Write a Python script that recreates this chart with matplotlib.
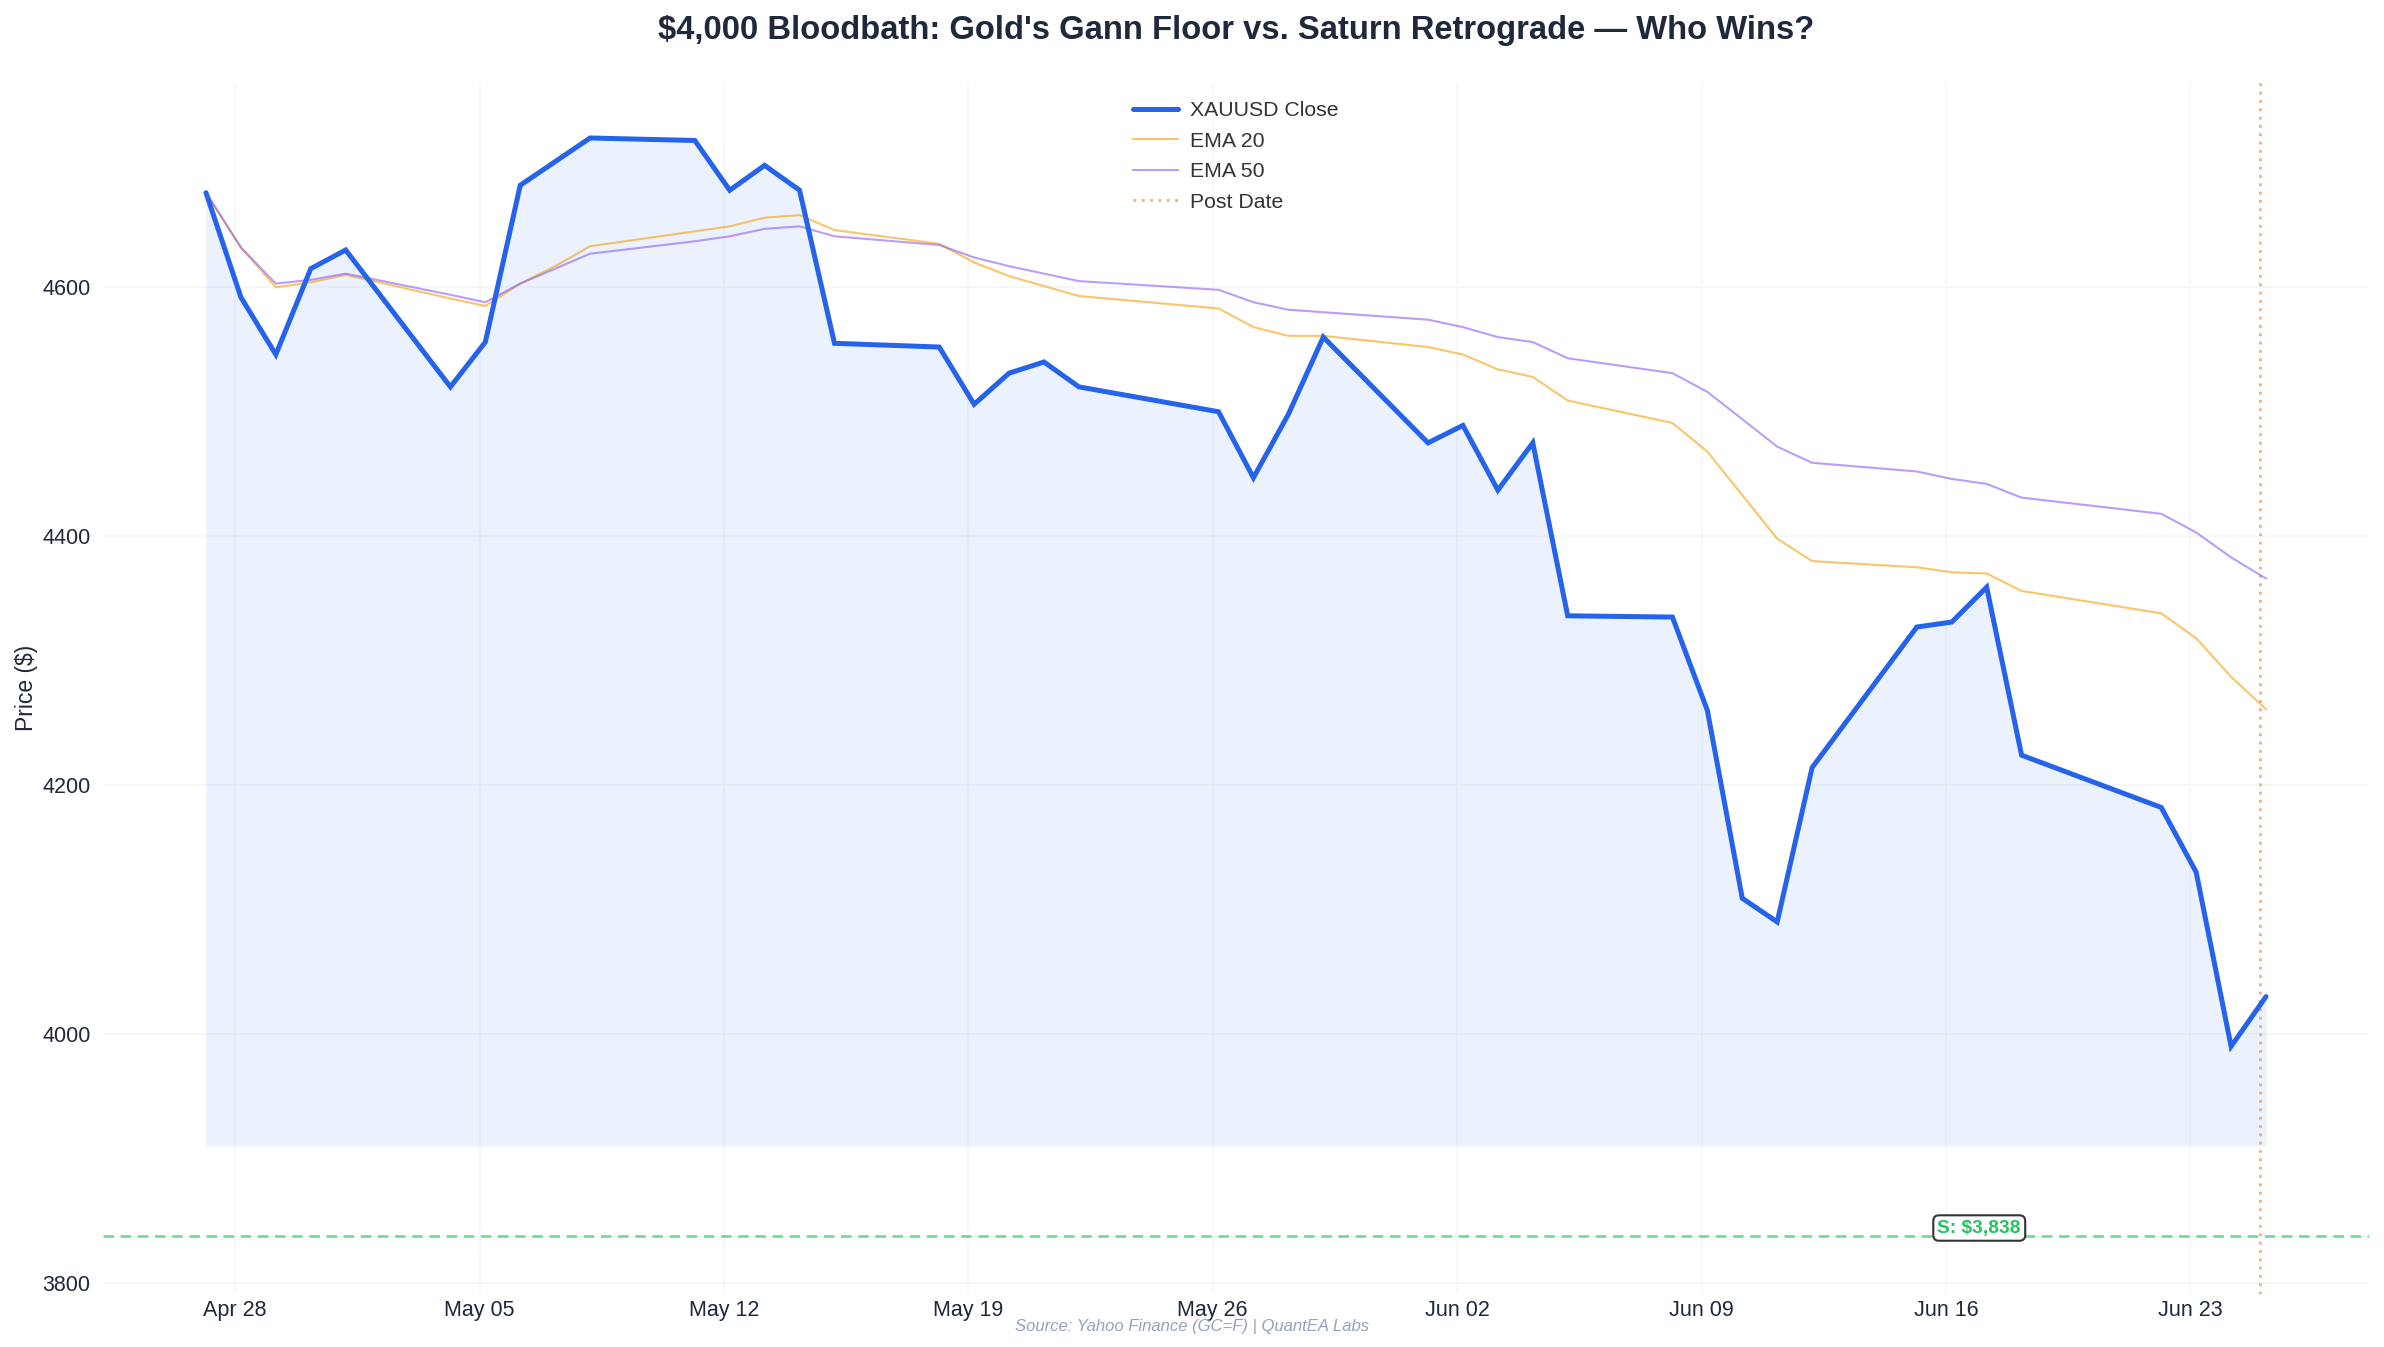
import matplotlib
matplotlib.use("Agg")
import matplotlib.pyplot as plt
import matplotlib.dates as mdates
import matplotlib.transforms as mtransforms
import numpy as np
import pandas as pd

plt.rcParams['font.family'] = ['Liberation Sans', 'DejaVu Sans']

# ---------------- data ----------------
dates = [
    "2026-04-27", "2026-04-28", "2026-04-29", "2026-04-30", "2026-05-01",
    "2026-05-04", "2026-05-05", "2026-05-06", "2026-05-07", "2026-05-08",
    "2026-05-11", "2026-05-12", "2026-05-13", "2026-05-14", "2026-05-15",
    "2026-05-18", "2026-05-19", "2026-05-20", "2026-05-21", "2026-05-22",
    "2026-05-26", "2026-05-27", "2026-05-28", "2026-05-29",
    "2026-06-01", "2026-06-02", "2026-06-03", "2026-06-04", "2026-06-05",
    "2026-06-08", "2026-06-09", "2026-06-10", "2026-06-11", "2026-06-12",
    "2026-06-15", "2026-06-16", "2026-06-17", "2026-06-18",
    "2026-06-22", "2026-06-23", "2026-06-24", "2026-06-25",
]
close = [
    4676, 4592, 4546, 4615, 4630,
    4520, 4556, 4682, 4701, 4720,
    4718, 4678, 4698, 4678, 4555,
    4552, 4506, 4531, 4540, 4520,
    4500, 4447, 4498, 4560,
    4475, 4489, 4437, 4475, 4336,
    4335, 4260, 4109, 4090, 4214,
    4327, 4331, 4359, 4224,
    4182, 4130, 3990, 4030,
]
ema20 = [
    4676, 4632, 4600, 4604, 4610,
    4591, 4585, 4603, 4617, 4633,
    4645, 4649, 4656, 4658, 4646,
    4635, 4620, 4609, 4601, 4593,
    4583, 4568, 4561, 4561,
    4552, 4546, 4534, 4528, 4509,
    4491, 4468, 4433, 4398, 4380,
    4375, 4371, 4370, 4356,
    4338, 4318, 4287, 4261,
]
ema50 = [
    4676, 4632, 4603, 4606, 4611,
    4594, 4588, 4603, 4615, 4627,
    4637, 4641, 4647, 4649, 4641,
    4634, 4624, 4617, 4611, 4605,
    4598, 4588, 4582, 4580,
    4574, 4568, 4560, 4556, 4543,
    4531, 4516, 4494, 4472, 4459,
    4452, 4446, 4442, 4431,
    4418, 4403, 4383, 4366,
]
support_level = 3838
support_label = "S: $3,838"
post_date = "2026-06-25"
tick_dates = ["2026-04-28", "2026-05-05", "2026-05-12", "2026-05-19", "2026-05-26",
              "2026-06-02", "2026-06-09", "2026-06-16", "2026-06-23"]
yticks = [3800, 4000, 4200, 4400, 4600]

title = "$4,000 Bloodbath: Gold's Gann Floor vs. Saturn Retrograde \u2014 Who Wins?"
source = "Source: Yahoo Finance (GC=F) | QuantEA Labs"

# ---------------- figure ----------------
W, H = 2384, 1347
fig = plt.figure(figsize=(W / 100, H / 100), dpi=100)
ax = fig.add_axes([103 / W, 1 - 1294 / H, (2369 - 103) / W, (1294 - 82) / H])

x = pd.to_datetime(dates) + pd.Timedelta(hours=4)
close_arr = np.array(close, dtype=float)
base = close_arr.min() * 0.98

ax.fill_between(x, close_arr, base, color='#3b82f6', alpha=0.1, linewidth=0, zorder=1)
ax.plot(x, ema20, color='#f59e0b', alpha=0.6, lw=1.5, label='EMA 20', zorder=3)
ax.plot(x, ema50, color='#8b5cf6', alpha=0.6, lw=1.5, label='EMA 50', zorder=3)
ax.plot(x, close_arr, color='#2563eb', lw=3.6, solid_joinstyle='miter',
        solid_capstyle='round', label='XAUUSD Close', zorder=4)

ax.axhline(support_level, color='#22c55e', alpha=0.65, lw=1.9, ls=(0, (4, 2.5)), zorder=2)
ax.axvline(pd.Timestamp(post_date), color='#fb923c', alpha=0.75, lw=2.0,
           ls=(0, (1, 2.0)), label='Post Date', zorder=2)

trans = mtransforms.blended_transform_factory(ax.transAxes, ax.transData)
ax.annotate(support_label, xy=(0.828, support_level), xycoords=trans,
            xytext=(0, -1), textcoords='offset pixels', ha='center', va='bottom',
            fontsize=13.8, fontweight='bold', color='#22c55e', zorder=6,
            bbox=dict(boxstyle='round,pad=0.22,rounding_size=0.3', facecolor='white',
                      edgecolor='#333333', linewidth=1.5))

# axes styling
span = x[-1] - x[0]
ax.set_xlim(x[0] - span * 0.05, x[-1] + span * 0.05)
ax.set_ylim(3791, 4765)
ax.set_xticks(pd.to_datetime(tick_dates))
ax.xaxis.set_major_formatter(mdates.DateFormatter('%b %d'))
ax.set_yticks(yticks)
ax.tick_params(axis='both', length=0, labelsize=15.5, colors='#1e293b')
ax.tick_params(axis='x', pad=4.5)
ax.tick_params(axis='y', pad=9)
for s in ax.spines.values():
    s.set_visible(False)
ax.grid(True, color='#f4f5f8', lw=1.1, zorder=0)
ax.set_axisbelow(True)
ax.set_ylabel('Price ($)', fontsize=16.5, color='#1e293b', labelpad=3)

# legend in specified order
handles, labels = ax.get_legend_handles_labels()
order = ['XAUUSD Close', 'EMA 20', 'EMA 50', 'Post Date']
hmap = dict(zip(labels, handles))
leg = ax.legend([hmap[o] for o in order], order, loc='upper center',
                bbox_to_anchor=(0.5, 1.0), frameon=False, fontsize=15.3,
                handlelength=2.1, handletextpad=0.6, labelspacing=0.54,
                borderaxespad=0.5)
for t in leg.get_texts():
    t.set_color('#333333')

# title centred over the plot area
ax_center = (103 + 2369) / 2 / W
fig.text(ax_center, 1 - 31 / H, title, ha='center', va='center', fontsize=23.6,
         fontweight='bold', color='#1e293b')
fig.text(0.5, 1 - 1326 / H, source, ha='center', va='center', fontsize=12,
         style='italic', color='#94a3b8')

fig.savefig('out.png', dpi=100)
